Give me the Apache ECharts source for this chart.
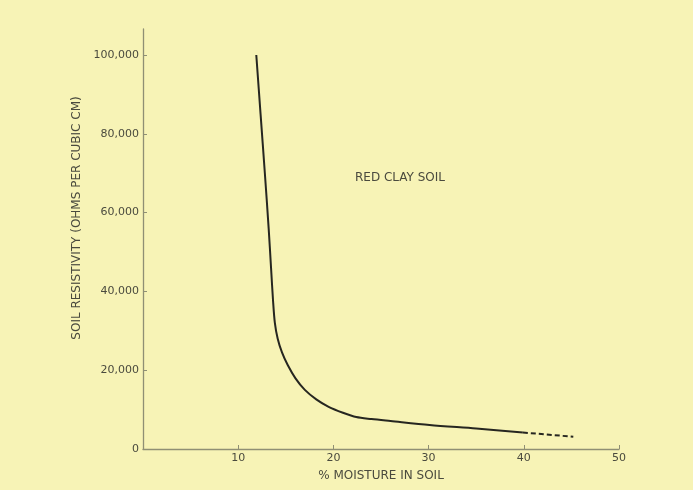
<!DOCTYPE html>
<html>
<head>
<meta charset="utf-8">
<script src="https://cdn.jsdelivr.net/npm/echarts@6/dist/echarts.min.js"></script>
<style>html,body{margin:0;padding:0;background:#f7f3b6;}#c{width:693px;height:490px;}</style>
</head>
<body>
<div id="c"></div>
<script>
var moistureSolid = [11.9, 12.35, 12.8, 13.2, 13.45, 13.65, 13.85, 14.15, 14.6, 15.2, 16.0, 17.0, 18.2, 19.5, 21.0, 22.4, 24.0, 26.0, 30.1, 35.0, 39.9];
var resistSolid   = [100000, 85000, 70000, 56000, 46000, 38000, 32000, 28000, 24500, 21300, 18000, 15000, 12600, 10700, 9200, 8100, 7600, 7100, 6100, 5200, 4200];
var moistureDash = [39.9, 45.2];
var resistDash   = [4200, 3100];
var yTicks = [0, 20000, 40000, 60000, 80000, 100000];
var xTicks = [0, 10, 20, 30, 40, 50];

var chart = echarts.init(document.getElementById('c'));
var txt = '#4a4a3e', axisCol = '#8f8f74';
function pairs(xs, ys){ return xs.map(function(x,i){ return [x, ys[i]]; }); }
chart.setOption({
  backgroundColor: '#f7f3b6',
  animation: false,
  grid: {left: 143, right: 74, top: 29, bottom: 41},
  xAxis: {
    type: 'value', min: 0, max: 50, interval: 10,
    name: '% MOISTURE IN SOIL', nameLocation: 'middle', nameGap: 21,
    nameTextStyle: {color: txt, fontSize: 12, fontFamily: 'DejaVu Sans'},
    axisLine: {lineStyle: {color: axisCol, width: 1.3}},
    axisTick: {inside: true, length: 4, lineStyle: {color: axisCol}},
    axisLabel: {color: txt, fontSize: 11, fontFamily: 'DejaVu Sans', showMinLabel: false, margin: 4},
    splitLine: {show: false}
  },
  yAxis: {
    type: 'value', min: 0, max: 106600,
    axisLine: {show: true, lineStyle: {color: axisCol, width: 1.3}},
    axisTick: {inside: true, length: 4, lineStyle: {color: axisCol}, customValues: yTicks},
    axisLabel: {color: txt, fontSize: 11, fontFamily: 'DejaVu Sans', margin: 4, customValues: yTicks,
      formatter: function(v){ return v === 0 ? '0' : v.toLocaleString('en-US'); }},
    splitLine: {show: false}
  },
  graphic: [
    {type: 'text', left: 355, top: 172, style: {text: 'RED CLAY SOIL', fill: txt, font: '12px DejaVu Sans'}},
    {type: 'text', x: 77, y: 218, rotation: Math.PI/2, style: {text: 'SOIL RESISTIVITY (OHMS PER CUBIC CM)', fill: txt, font: '12px DejaVu Sans', align: 'center', verticalAlign: 'middle'}}
  ],
  series: [
    {type: 'line', data: pairs(moistureSolid, resistSolid), smooth: 0.3, showSymbol: false,
      lineStyle: {color: '#262620', width: 2, join: 'round'}},
    {type: 'line', data: pairs(moistureDash, resistDash), showSymbol: false,
      lineStyle: {color: '#262620', width: 2, type: [5, 3]}}
  ]
});
</script>
</body>
</html>
